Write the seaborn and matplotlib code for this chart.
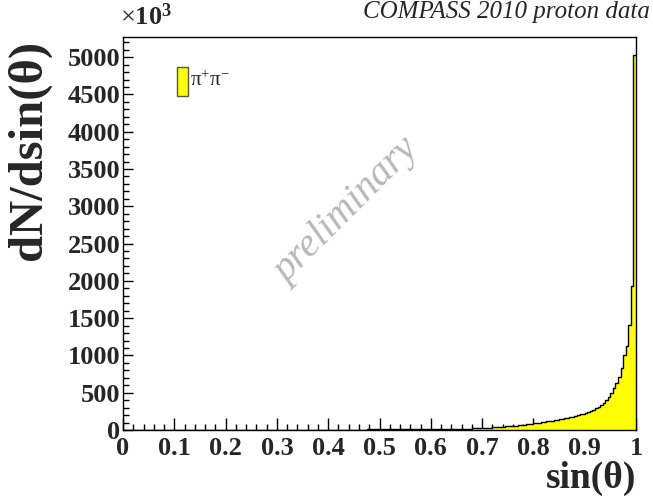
import numpy as np
import pandas as pd
import matplotlib
matplotlib.use("Agg")
import matplotlib.pyplot as plt
import seaborn as sns
from matplotlib.ticker import MultipleLocator
from matplotlib.patches import Rectangle

# ---- data (dN/dsin(theta) in units of 10^3, 200 bins of width 0.005 on [0,1]) ----
bin_low_edges = np.round(np.arange(200) * 0.005, 3)
counts_row0 = [1.2, 1.2, 1.2, 1.3, 1.3, 1.3, 1.3, 1.4, 1.4, 1.4, 1.4, 1.5, 1.5, 1.5, 1.5, 1.6, 1.6, 1.6, 1.7, 1.7]
counts_row1 = [1.7, 1.8, 1.8, 1.8, 1.9, 1.9, 1.9, 2.0, 2.0, 2.0, 2.1, 2.1, 2.2, 2.2, 2.2, 2.3, 2.3, 2.4, 2.4, 2.5]
counts_row2 = [2.5, 2.5, 2.6, 2.6, 2.7, 2.7, 2.8, 2.8, 2.9, 2.9, 3.0, 3.0, 3.1, 3.1, 3.2, 3.2, 3.3, 3.4, 3.4, 3.5]
counts_row3 = [3.5, 3.6, 3.7, 3.7, 3.8, 3.9, 3.9, 4.0, 4.1, 4.1, 4.2, 4.3, 4.4, 4.4, 4.5, 4.6, 4.7, 4.8, 4.9, 5.0]
counts_row4 = [5.1, 5.2, 5.3, 5.4, 5.5, 5.6, 5.7, 5.8, 5.9, 6.0, 6.1, 6.3, 6.4, 6.5, 6.7, 6.8, 7.0, 7.1, 7.3, 7.4]
counts_row5 = [7.6, 7.8, 7.9, 8.1, 8.3, 8.5, 8.7, 8.9, 9.1, 9.3, 9.5, 9.8, 10.0, 10.3, 10.5, 10.8, 11.1, 11.4, 11.7, 12.0]
counts_row6 = [12.3, 12.7, 13.0, 13.4, 13.8, 14.2, 14.6, 15.1, 15.6, 16.1, 16.6, 17.2, 17.8, 18.4, 19.1, 19.8, 20.6, 21.4, 22.3, 23.5]
counts_row7 = [26, 28, 30, 32, 34, 36, 38, 41, 44, 47, 50, 53, 56, 60, 64, 68, 72, 76, 80, 85]
counts_row8 = [89, 94, 99, 104, 109, 114, 120, 126, 132, 138, 144, 151, 158, 165, 173, 181, 190, 199, 209, 219]
counts_row9 = [230, 242, 256, 272, 290, 310, 335, 365, 400, 445, 500, 560, 635, 715, 830, 1000, 1130, 1410, 1935, 5030]
counts = (counts_row0 + counts_row1 + counts_row2 + counts_row3 + counts_row4 +
          counts_row5 + counts_row6 + counts_row7 + counts_row8 + counts_row9)

y_ticks = [0, 500, 1000, 1500, 2000, 2500, 3000, 3500, 4000, 4500, 5000]
x_ticks = [0, 0.1, 0.2, 0.3, 0.4, 0.5, 0.6, 0.7, 0.8, 0.9, 1]
x_tick_labels = ["0", "0.1", "0.2", "0.3", "0.4", "0.5", "0.6", "0.7", "0.8", "0.9", "1"]

df = pd.DataFrame({"s": bin_low_edges + 0.0025, "w": counts})

sns.set_style("white")
plt.rcParams["font.family"] = ["Liberation Serif", "DejaVu Serif"]
plt.rcParams["mathtext.fontset"] = "custom"
plt.rcParams["mathtext.rm"] = "Liberation Serif"
plt.rcParams["mathtext.it"] = "Liberation Serif:italic"
plt.rcParams["mathtext.bf"] = "Liberation Serif:bold"

W, H = 653, 496
fig = plt.figure(figsize=(W / 100, H / 100), dpi=100)
L, R, T, B = 123, 636, 37, 430
ax = fig.add_axes([L / W, 1 - B / H, (R - L) / W, (B - T) / H])

sns.histplot(data=df, x="s", weights="w", bins=200, binrange=(0, 1), element="step",
             fill=True, color="#ffff00", alpha=1, linewidth=0, ax=ax)
sns.histplot(data=df, x="s", weights="w", bins=200, binrange=(0, 1), element="step",
             fill=False, color="black", linewidth=1.0, ax=ax)

ax.set_xlim(0, 1)
ax.set_ylim(0, 5270)
ax.set_xlabel("")
ax.set_ylabel("")
ax.set_xticks(x_ticks)
ax.set_xticklabels(x_tick_labels)
ax.set_yticks(y_ticks)
ax.xaxis.set_minor_locator(MultipleLocator(0.02))
ax.yaxis.set_minor_locator(MultipleLocator(100))
for sp in ax.spines.values():
    sp.set_visible(True)
    sp.set_color("black")
    sp.set_linewidth(1.0)
ax.tick_params(axis="x", which="major", direction="in", length=8.6, width=1, color="black",
               pad=5, labelsize=19)
ax.tick_params(axis="x", which="minor", direction="in", length=4.3, width=1, color="black")
ax.tick_params(axis="y", which="major", direction="in", length=7, width=1, color="black",
               pad=2, labelsize=19)
ax.tick_params(axis="y", which="minor", direction="in", length=4, width=1, color="black")
ax.tick_params(which="both", bottom=True, left=True, top=False, right=False)
for lab in ax.get_xticklabels() + ax.get_yticklabels():
    lab.set_fontweight("bold")

# axis titles
fig.text(29 / W, 1 - 150 / H, r"dN/dsin(θ)", rotation=90, ha="center", va="center",
         fontsize=35, fontweight="bold")
fig.text(636 / W, 1 - 478 / H, r"sin(θ)", ha="right", va="center",
         fontsize=27, fontweight="bold")

# exponent marker
fig.text(120 / W, 1 - 17 / H, r"$\times\mathbf{10^{3}}$", ha="left", va="center", fontsize=19)

# header
fig.text(650 / W, 1 - 12 / H, "COMPASS 2010 proton data", ha="right", va="center",
         fontsize=18, style="italic")

# legend
fig.patches.append(Rectangle((177 / W, 1 - 96 / H), 11 / W, 29 / H, transform=fig.transFigure,
                             facecolor="#ffff00", edgecolor="#555555", linewidth=1))
fig.text(190 / W, 1 - 81 / H, r"π$^{+}$π$^{-}$", ha="left", va="center", fontsize=15)

# watermark
fig.text(347 / W, 1 - 211 / H, "preliminary", rotation=45, ha="center", va="center",
         fontsize=29, style="italic", color="#b8b8b8")

fig.savefig("out.png", dpi=100)
